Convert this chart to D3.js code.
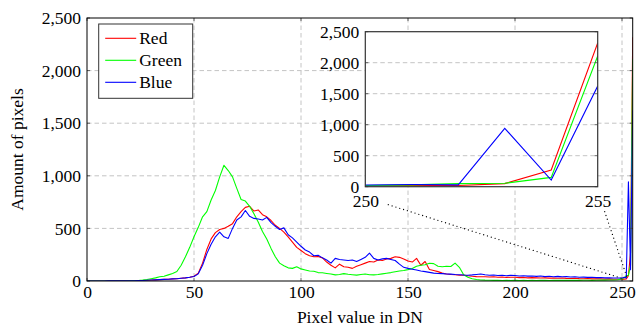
<!DOCTYPE html>
<html>
<head>
<meta charset="utf-8">
<script src="https://cdn.jsdelivr.net/npm/d3@7"></script>
<style>
  body { margin: 0; background: #fff; }
  svg { display: block; }
  svg text { font-family: "Liberation Serif", "Times New Roman", "DejaVu Serif", serif; }
</style>
</head>
<body>
<div id="chart"></div>
<script>
// pixel value (DN) sampled every 2 DN, full resolution at the saturated end
const dn = [0,2,4,6,8,10,12,14,16,18,20,22,24,26,28,30,32,34,36,38,40,42,44,46,48,50,52,54,56,58,60,62,64,66,68,70,72,74,76,78,80,82,84,86,88,90,92,94,96,98,100,102,104,106,108,110,112,114,116,118,120,122,124,126,128,130,132,134,136,138,140,142,144,146,148,150,152,154,156,158,160,162,164,166,168,170,172,174,176,178,180,182,184,186,188,190,192,194,196,198,200,202,204,206,208,210,212,214,216,218,220,222,224,226,228,230,232,234,236,238,240,242,244,246,248,250,251,252,253,254,255];

const red = [0,0,0,0,0,1,1,1,1,2,2,3,4,5,7,9,11,13,15,17,20,22,26,30,35,45,75,170,300,400,460,490,500,520,545,610,660,700,710,665,675,630,610,575,530,500,465,420,370,320,290,260,240,230,232,220,180,150,125,160,135,130,120,140,155,170,185,180,200,195,210,215,230,225,210,190,180,215,150,185,110,100,89,75,67,62,60,55,57,50,45,42,41,40,38,40,36,38,34,36,35,32,34,30,32,30,28,30,27,28,26,28,25,24,26,23,22,24,20,22,20,18,20,17,16,15,18,20,50,270,2318];

const green = [0,0,0,0,0,0,0,0,0,0,1,2,4,8,14,22,30,40,45,58,72,90,150,230,320,420,510,610,660,770,860,990,1100,1050,990,880,775,760,710,640,560,470,400,310,230,170,145,125,120,135,115,105,95,92,80,78,72,66,58,62,70,64,60,56,62,66,60,58,62,68,74,80,88,95,100,108,118,140,150,155,168,165,140,135,140,138,170,130,60,35,22,15,10,8,7,6,6,5,6,5,6,5,6,5,6,5,6,6,5,6,6,7,6,6,7,6,7,7,6,7,8,8,9,10,12,20,30,50,55,150,2110];

const blue = [0,0,0,0,0,1,1,1,1,2,2,3,4,5,7,9,11,13,15,17,20,22,26,30,35,42,68,150,260,350,420,465,420,405,500,580,610,670,615,595,590,580,605,555,520,490,505,440,410,370,330,295,275,240,245,220,200,170,215,205,200,195,200,185,205,225,265,215,200,210,215,205,195,160,130,120,112,104,95,89,82,75,72,70,67,65,62,60,57,55,58,62,66,60,55,57,52,55,50,54,52,48,50,46,48,44,47,42,45,40,44,40,42,38,40,36,37,34,36,32,33,30,31,28,29,28,35,30,942,108,1624];

const series = [
  { name: 'Red', color: '#ff0000', values: red },
  { name: 'Green', color: '#00ff00', values: green },
  { name: 'Blue', color: '#0000ff', values: blue }
];

const xTicks = [0, 50, 100, 150, 200, 250];
const yTicks = [0, 500, 1000, 1500, 2000, 2500];
const insetXTicks = [250, 255];

const W = 636, H = 326;
const fontSize = '17.5px';
const fontFamily = '"Liberation Serif", "Times New Roman", "DejaVu Serif", serif';
const gridColor = '#c4c4c4';

const svg = d3.select('#chart').append('svg')
  .attr('width', W)
  .attr('height', H)
  .attr('font-family', fontFamily);

// main plot box
const plot = { left: 87, right: 632.7, top: 18, bottom: 281 };
const x = d3.scaleLinear().domain([0, 255]).range([plot.left, plot.right]);
const y = d3.scaleLinear().domain([0, 2500]).range([plot.bottom, plot.top]);

svg.append('clipPath').attr('id', 'clip-main')
  .append('rect')
  .attr('x', plot.left).attr('y', plot.top)
  .attr('width', plot.right - plot.left).attr('height', plot.bottom - plot.top);

// grid lines
const grid = svg.append('g').attr('stroke', gridColor).attr('stroke-dasharray', '4.5,3').attr('stroke-width', 1);
grid.selectAll('.gx').data(xTicks.slice(1))
  .enter().append('line')
  .attr('x1', d => x(d)).attr('x2', d => x(d))
  .attr('y1', plot.top).attr('y2', plot.bottom);
grid.selectAll('.gy').data(yTicks.slice(1, -1))
  .enter().append('line')
  .attr('x1', plot.left).attr('x2', plot.right)
  .attr('y1', d => y(d)).attr('y2', d => y(d));

// lines
const line = d3.line()
  .x((d, i) => x(dn[i]))
  .y(d => y(d));

svg.append('g').attr('clip-path', 'url(#clip-main)')
  .selectAll('path')
  .data(series)
  .enter().append('path')
  .attr('fill', 'none')
  .attr('stroke', d => d.color)
  .attr('stroke-width', 1.1)
  .attr('stroke-linejoin', 'round')
  .attr('d', d => line(d.values));

// tick marks inside the frame
const ticks = svg.append('g').attr('stroke', '#444').attr('stroke-width', 0.8);
xTicks.forEach(t => {
  ticks.append('line').attr('x1', x(t)).attr('x2', x(t)).attr('y1', plot.bottom).attr('y2', plot.bottom - 3);
  ticks.append('line').attr('x1', x(t)).attr('x2', x(t)).attr('y1', plot.top).attr('y2', plot.top + 3);
});
yTicks.forEach(t => {
  ticks.append('line').attr('x1', plot.left).attr('x2', plot.left + 3).attr('y1', y(t)).attr('y2', y(t));
  ticks.append('line').attr('x1', plot.right).attr('x2', plot.right - 3).attr('y1', y(t)).attr('y2', y(t));
});

// frame
svg.append('rect')
  .attr('x', plot.left).attr('y', plot.top)
  .attr('width', plot.right - plot.left).attr('height', plot.bottom - plot.top)
  .attr('fill', 'none').attr('stroke', '#000').attr('stroke-width', 1);

function styleAxis(a) {
  a.select('.domain').remove();
  a.attr('font-family', fontFamily).attr('font-size', null);
  a.selectAll('text')
    .attr('font-family', fontFamily)
    .attr('font-size', fontSize)
    .attr('fill', '#000');
}

// axis labels
const xAxis = svg.append('g')
  .attr('transform', `translate(0,${plot.bottom})`)
  .call(d3.axisBottom(x).tickValues(xTicks).tickSize(0).tickPadding(5).tickFormat(d3.format('d')));
const yAxis = svg.append('g')
  .attr('transform', `translate(${plot.left},0)`)
  .call(d3.axisLeft(y).tickValues(yTicks).tickSize(0).tickPadding(6).tickFormat(d3.format(',')));
styleAxis(xAxis);
styleAxis(yAxis);

svg.append('text')
  .attr('x', (plot.left + plot.right) / 2)
  .attr('y', 323)
  .attr('text-anchor', 'middle')
  .attr('font-family', fontFamily)
  .attr('font-size', fontSize)
  .text('Pixel value in DN');

svg.append('text')
  .attr('transform', `translate(23,${(plot.top + plot.bottom) / 2}) rotate(-90)`)
  .attr('text-anchor', 'middle')
  .attr('font-family', fontFamily)
  .attr('font-size', fontSize)
  .text('Amount of pixels');

// legend
const legend = svg.append('g').attr('transform', 'translate(98.7,24)');
legend.append('rect')
  .attr('width', 94).attr('height', 74.3)
  .attr('fill', '#fff').attr('stroke', '#333').attr('stroke-width', 1);
series.forEach((s, i) => {
  const ly = 14.3 + i * 22;
  legend.append('line')
    .attr('x1', 6.5).attr('x2', 37.5)
    .attr('y1', ly).attr('y2', ly)
    .attr('stroke', s.color).attr('stroke-width', 1.1);
  legend.append('text')
    .attr('x', 40.5).attr('y', ly + 5.8)
    .attr('font-family', fontFamily)
    .attr('font-size', fontSize)
    .text(s.name);
});

// inset zoom on 250..255
const inset = { left: 365.3, right: 597.7, top: 31.7, bottom: 186.7 };
const ix = d3.scaleLinear().domain([250, 255]).range([inset.left, inset.right]);
const iy = d3.scaleLinear().domain([0, 2500]).range([inset.bottom, inset.top]);

svg.append('clipPath').attr('id', 'clip-inset')
  .append('rect')
  .attr('x', inset.left).attr('y', inset.top)
  .attr('width', inset.right - inset.left).attr('height', inset.bottom - inset.top);

svg.append('rect')
  .attr('x', inset.left).attr('y', inset.top)
  .attr('width', inset.right - inset.left).attr('height', inset.bottom - inset.top)
  .attr('fill', '#fff');

svg.append('g').attr('stroke', gridColor).attr('stroke-dasharray', '4.5,3')
  .selectAll('line').data(yTicks.slice(1, -1))
  .enter().append('line')
  .attr('x1', inset.left).attr('x2', inset.right)
  .attr('y1', d => iy(d)).attr('y2', d => iy(d));

const first = dn.indexOf(250);
const insetLine = d3.line()
  .x(d => ix(d[0]))
  .y(d => iy(d[1]));

svg.append('g').attr('clip-path', 'url(#clip-inset)')
  .selectAll('path')
  .data(series)
  .enter().append('path')
  .attr('fill', 'none')
  .attr('stroke', d => d.color)
  .attr('stroke-width', 1.1)
  .attr('d', d => insetLine(dn.slice(first).map((v, i) => [v, d.values[first + i]])));

const iticks = svg.append('g').attr('stroke', '#444').attr('stroke-width', 0.8);
yTicks.forEach(t => {
  iticks.append('line').attr('x1', inset.left).attr('x2', inset.left + 3).attr('y1', iy(t)).attr('y2', iy(t));
  iticks.append('line').attr('x1', inset.right).attr('x2', inset.right - 3).attr('y1', iy(t)).attr('y2', iy(t));
});

svg.append('rect')
  .attr('x', inset.left).attr('y', inset.top)
  .attr('width', inset.right - inset.left).attr('height', inset.bottom - inset.top)
  .attr('fill', 'none').attr('stroke', '#333').attr('stroke-width', 1.2);

const ixAxis = svg.append('g')
  .attr('transform', `translate(0,${inset.bottom})`)
  .call(d3.axisBottom(ix).tickValues(insetXTicks).tickSize(0).tickPadding(8).tickFormat(d3.format('d')));
const iyAxis = svg.append('g')
  .attr('transform', `translate(${inset.left},0)`)
  .call(d3.axisLeft(iy).tickValues(yTicks).tickSize(0).tickPadding(6).tickFormat(d3.format(',')));
styleAxis(ixAxis);
styleAxis(iyAxis);

// dotted connectors from the inset to the zoomed region
const conn = [
  { from: [ix(250) + 23, inset.bottom + 18], to: [x(250), y(25)] },
  { from: [ix(255) + 7, inset.bottom + 25], to: [x(252.5), y(25)] }
];
svg.append('g').selectAll('line').data(conn)
  .enter().append('line')
  .attr('x1', d => d.from[0]).attr('y1', d => d.from[1])
  .attr('x2', d => d.to[0]).attr('y2', d => d.to[1])
  .attr('stroke', '#000').attr('stroke-width', 1.3)
  .attr('stroke-linecap', 'round')
  .attr('stroke-dasharray', '0,4');
</script>
</body>
</html>
